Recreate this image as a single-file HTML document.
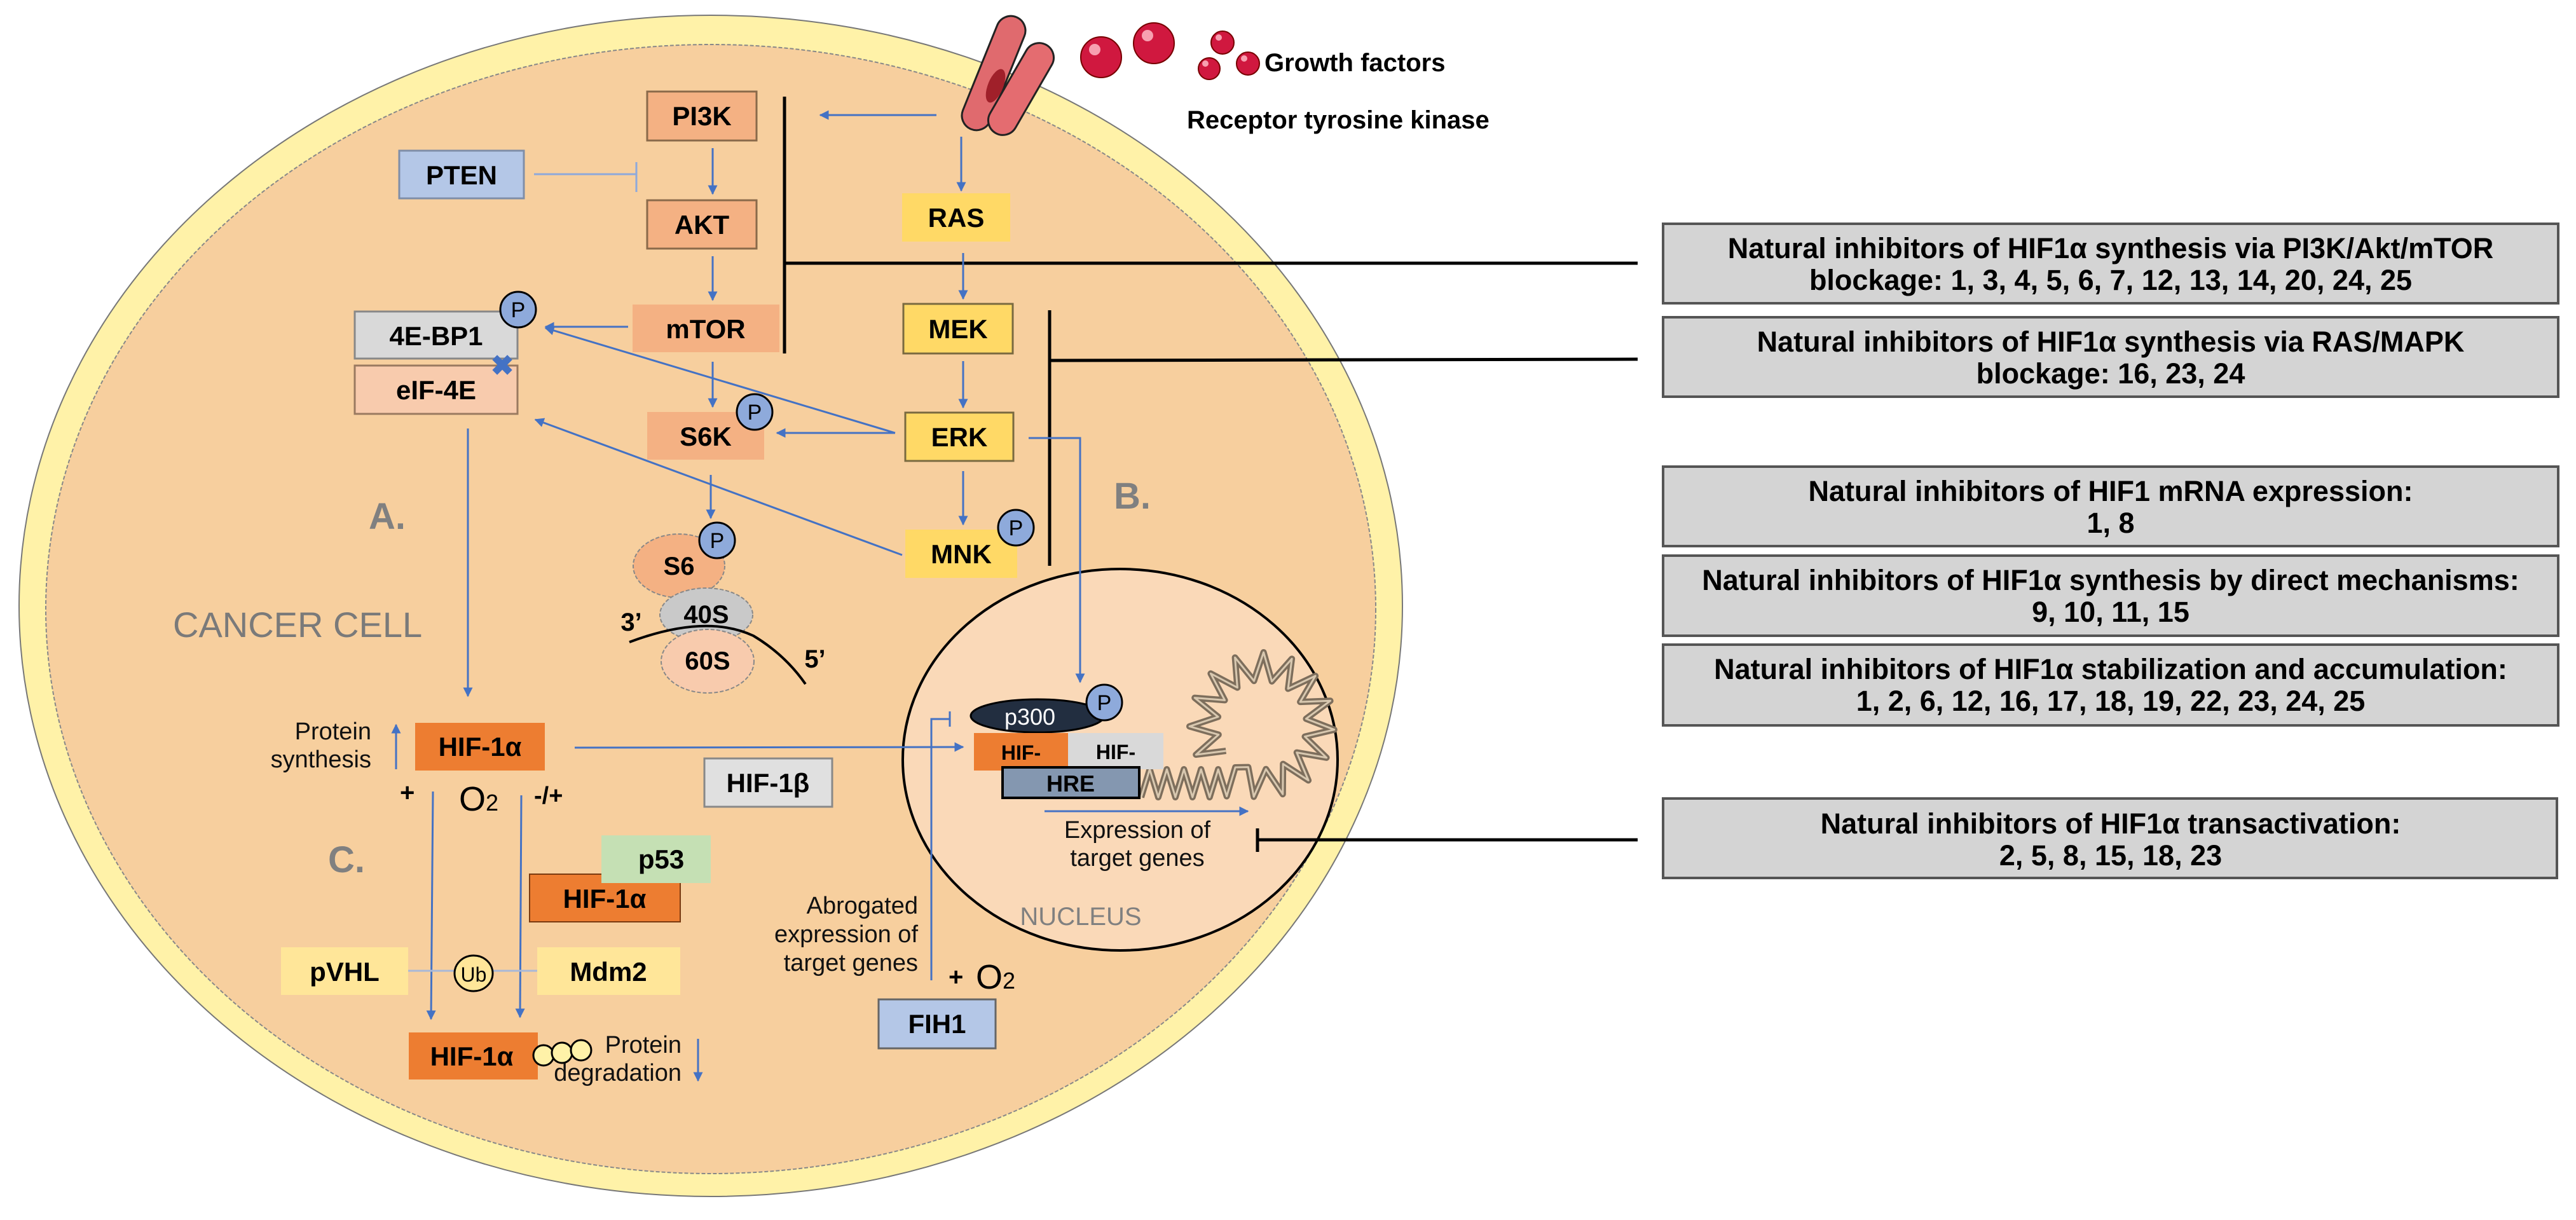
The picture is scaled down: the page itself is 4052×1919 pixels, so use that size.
<!DOCTYPE html>
<html><head><meta charset="utf-8"><style>
html,body{margin:0;padding:0;background:#fff;}
svg{display:block;}
text{font-family:"Liberation Sans",Arial,sans-serif;}
.b{font-weight:bold;font-size:42px;text-anchor:middle;fill:#000;}
.r{font-size:38px;fill:#111;}
.nb{font-weight:bold;font-size:45px;text-anchor:middle;fill:#000;}
</style></head><body>
<svg width="4052" height="1919" viewBox="0 0 4052 1919" xmlns="http://www.w3.org/2000/svg">
<defs>
<marker id="ar" viewBox="0 0 10 10" refX="9" refY="5" markerWidth="5" markerHeight="5" orient="auto-start-reverse">
<path d="M0,0 L10,5 L0,10 z" fill="#4472c4"/></marker>
</defs>
<ellipse cx="1118" cy="953" rx="1088" ry="929" fill="#fff2a8" stroke="#777" stroke-width="2"/>
<ellipse cx="1118" cy="958" rx="1046" ry="888" fill="#f7cf9e" stroke="#888" stroke-width="2" stroke-dasharray="6,3"/>
<ellipse cx="1762" cy="1195" rx="342" ry="300" fill="#fad9b8" stroke="#000" stroke-width="4"/>

<g id="dna" fill="none" stroke="#7d6e5c" stroke-width="10" stroke-linejoin="round"></g>

<g stroke="#000" stroke-width="5" fill="none">
<line x1="1234" y1="152" x2="1234" y2="556"/>
<line x1="1234" y1="414" x2="2576" y2="414"/>
<line x1="1651" y1="488" x2="1651" y2="890"/>
<line x1="1651" y1="567" x2="2576" y2="565"/>
<line x1="1978" y1="1321" x2="2576" y2="1321"/>
<line x1="1978" y1="1303" x2="1978" y2="1340"/>
</g>

<g stroke="#4472c4" stroke-width="3" fill="none" marker-end="url(#ar)">
<line x1="1473" y1="181" x2="1290" y2="181"/>
<line x1="1512" y1="215" x2="1512" y2="300"/>
<line x1="1121" y1="233" x2="1121" y2="305"/>
<line x1="1121" y1="403" x2="1121" y2="472"/>
<line x1="988" y1="514" x2="858" y2="514"/>
<line x1="1121" y1="569" x2="1121" y2="640"/>
<line x1="1408" y1="681" x2="1222" y2="681"/>
<line x1="1408" y1="681" x2="858" y2="516"/>
<line x1="1419" y1="873" x2="842" y2="660"/>
<line x1="1118" y1="747" x2="1118" y2="815"/>
<line x1="1515" y1="398" x2="1515" y2="470"/>
<line x1="1515" y1="568" x2="1515" y2="641"/>
<line x1="1515" y1="741" x2="1515" y2="825"/>
<line x1="736" y1="674" x2="736" y2="1095"/>
<polyline points="1618,689 1699,689 1699,1073"/>
<line x1="623" y1="1210" x2="623" y2="1140"/>
<line x1="904" y1="1176" x2="1515" y2="1175"/>
<line x1="681" y1="1245" x2="678" y2="1603"/>
<line x1="820" y1="1251" x2="818" y2="1600"/>
<line x1="1098" y1="1634" x2="1098" y2="1700"/>
<line x1="1643" y1="1276" x2="1963" y2="1276"/>
</g>
<g stroke="#4472c4" stroke-width="3" fill="none">
<polyline points="1465,1542 1465,1131 1494,1131"/>
<line x1="1494" y1="1119" x2="1494" y2="1143"/>
</g>
<g stroke="#8ea9db" stroke-width="3" fill="none">
<line x1="840" y1="274" x2="1001" y2="274"/>
<line x1="1001" y1="255" x2="1001" y2="302"/>
<line x1="642" y1="1527" x2="845" y2="1527" stroke="#a9b8d8"/>
</g>

<g stroke="#8a6a4a" stroke-width="3">
<rect x="1018" y="144" width="172" height="77" fill="#f4b183"/>
<rect x="1018" y="315" width="172" height="76" fill="#f4b183"/>
<rect x="995" y="479" width="231" height="75" fill="#f4b183" stroke="none"/>
<rect x="1018" y="648" width="184" height="75" fill="#f4b183" stroke="none"/>
<rect x="628" y="237" width="196" height="75" fill="#b4c7e7" stroke="#7f8ea8"/>
<rect x="558" y="490" width="256" height="74" fill="#d9d9d9" stroke="#888"/>
<rect x="558" y="575" width="256" height="76" fill="#f8cbad" stroke="#9a7a60"/>
<rect x="1419" y="304" width="170" height="76" fill="#ffd966" stroke="none"/>
<rect x="1421" y="478" width="172" height="78" fill="#ffd966" stroke="#7a6a40"/>
<rect x="1424" y="649" width="170" height="76" fill="#ffd966" stroke="#7a6a40"/>
<rect x="1424" y="833" width="176" height="76" fill="#ffd966" stroke="none"/>
</g>
<text class="b" x="1104" y="197">PI3K</text>
<text class="b" x="1104" y="368">AKT</text>
<text class="b" x="1110" y="532">mTOR</text>
<text class="b" x="1110" y="701">S6K</text>
<text class="b" x="726" y="290">PTEN</text>
<text class="b" x="686" y="543">4E-BP1</text>
<text class="b" x="686" y="628">eIF-4E</text>
<text class="b" x="1504" y="357">RAS</text>
<text class="b" x="1507" y="532">MEK</text>
<text class="b" x="1509" y="702">ERK</text>
<text class="b" x="1512" y="886">MNK</text>

<g fill="#8eaadb" stroke="#000" stroke-width="3">
<circle cx="815" cy="487" r="28"/>
<circle cx="1187" cy="648" r="28"/>
<circle cx="1598" cy="830" r="28"/>
</g>
<text x="790" y="590" font-size="44" font-weight="bold" fill="#4472c4" text-anchor="middle">✖</text>

<ellipse cx="1068" cy="890" rx="72" ry="50" fill="#f4b183" stroke="#888" stroke-width="2" stroke-dasharray="6,3"/>
<circle cx="1128" cy="850" r="28" fill="#8eaadb" stroke="#000" stroke-width="3"/>
<ellipse cx="1111" cy="967" rx="73" ry="42" fill="#c9c9c9" stroke="#888" stroke-width="2" stroke-dasharray="6,3"/>
<ellipse cx="1113" cy="1040" rx="73" ry="50" fill="#f8cbad" stroke="#888" stroke-width="2" stroke-dasharray="6,3"/>
<path d="M990,1010 Q1110,965 1185,1000 Q1235,1030 1267,1076" fill="none" stroke="#000" stroke-width="4"/>
<g font-weight="bold" fill="#000" font-size="40" text-anchor="middle">
<text x="1068" y="904">S6</text>
<text x="1111" y="980">40S</text>
<text x="1113" y="1053">60S</text>
<text x="993" y="992">3’</text>
<text x="1282" y="1050">5’</text>
</g>
<g font-size="34" text-anchor="middle" fill="#000">
<text x="815" y="499">P</text><text x="1187" y="660">P</text><text x="1598" y="842">P</text><text x="1128" y="862">P</text><text x="1737" y="1117">P</text>
</g>

<g font-weight="bold" fill="#808080" font-size="58">
<text x="580" y="832">A.</text>
<text x="1752" y="800">B.</text>
<text x="516" y="1372">C.</text>
</g>
<text x="272" y="1002" font-size="56" fill="#7a7a7a">CANCER CELL</text>

<rect x="653" y="1137" width="204" height="75" fill="#ed7d31"/>
<text class="b" x="755" y="1189">HIF-1α</text>
<text class="r" x="584" y="1163" text-anchor="end">Protein</text>
<text class="r" x="584" y="1207" text-anchor="end">synthesis</text>
<text x="629" y="1260" font-size="40" font-weight="bold">+</text>
<text x="722" y="1275" font-size="54">O<tspan font-size="36">2</tspan></text>
<text x="840" y="1264" font-size="38" font-weight="bold">-/+</text>
<rect x="1108" y="1193" width="201" height="76" fill="#e0e0e0" stroke="#888" stroke-width="3"/>
<text class="b" x="1208" y="1246">HIF-1β</text>
<rect x="833" y="1375" width="237" height="75" fill="#ed7d31" stroke="#7a3a10" stroke-width="2"/>
<text class="b" x="951" y="1428">HIF-1α</text>
<rect x="946" y="1314" width="172" height="75" fill="#c5e0b4"/>
<text class="b" x="1040" y="1366">p53</text>
<rect x="442" y="1490" width="200" height="75" fill="#ffe699"/>
<text class="b" x="542" y="1543">pVHL</text>
<rect x="845" y="1490" width="225" height="75" fill="#ffe699"/>
<text class="b" x="957" y="1543">Mdm2</text>
<ellipse cx="745" cy="1531" rx="30" ry="28" fill="#ffe699" stroke="#000" stroke-width="3"/>
<text x="745" y="1544" font-size="32" text-anchor="middle">Ub</text>
<rect x="643" y="1624" width="203" height="74" fill="#ed7d31"/>
<text class="b" x="742" y="1676">HIF-1α</text>
<g fill="#fff2a8" stroke="#000" stroke-width="3">
<circle cx="855" cy="1660" r="16"/><circle cx="884" cy="1656" r="16"/><circle cx="914" cy="1652" r="16"/>
</g>
<text class="r" x="1072" y="1656" text-anchor="end">Protein</text>
<text class="r" x="1072" y="1700" text-anchor="end">degradation</text>

<text class="r" x="1444" y="1437" text-anchor="end">Abrogated</text>
<text class="r" x="1444" y="1482" text-anchor="end">expression of</text>
<text class="r" x="1444" y="1527" text-anchor="end">target genes</text>
<text x="1492" y="1550" font-size="40" font-weight="bold">+</text>
<text x="1535" y="1555" font-size="54">O<tspan font-size="36">2</tspan></text>
<rect x="1382" y="1572" width="184" height="77" fill="#b4c7e7" stroke="#666" stroke-width="3"/>
<text class="b" x="1474" y="1625">FIH1</text>

<ellipse cx="1632" cy="1126" rx="105" ry="26" fill="#222e40" stroke="#000" stroke-width="3"/>
<text x="1620" y="1140" font-size="36" fill="#fff" text-anchor="middle">p300</text>
<circle cx="1737" cy="1105" r="28" fill="#8eaadb" stroke="#000" stroke-width="3"/>
<text x="1737" y="1117" font-size="34" text-anchor="middle">P</text>
<rect x="1532" y="1153" width="148" height="59" fill="#ed7d31"/>
<rect x="1680" y="1153" width="150" height="57" fill="#d9d9d9"/>
<text x="1606" y="1195" font-size="32" font-weight="bold" text-anchor="middle">HIF-</text>
<text x="1755" y="1194" font-size="32" font-weight="bold" text-anchor="middle">HIF-</text>
<rect x="1577" y="1207" width="215" height="48" fill="#8497b0" stroke="#000" stroke-width="4"/>
<text x="1684" y="1245" font-size="36" font-weight="bold" text-anchor="middle">HRE</text>
<text class="r" x="1789" y="1318" text-anchor="middle">Expression of</text>
<text class="r" x="1789" y="1362" text-anchor="middle">target genes</text>
<text x="1700" y="1455" font-size="40" fill="#808080" text-anchor="middle">NUCLEUS</text>

<g stroke="#222" stroke-width="3">
<rect x="1540" y="20" width="46" height="190" rx="23" fill="#e06a6e" transform="rotate(22 1563 115)"/>
<rect x="1583" y="60" width="46" height="160" rx="23" fill="#e46c70" transform="rotate(30 1606 140)"/>
</g>
<ellipse cx="1566" cy="135" rx="12" ry="28" fill="#a0202a" transform="rotate(22 1566 135)"/>
<g fill="#d0183f" stroke="#700" stroke-width="2">
<circle cx="1732" cy="90" r="32"/><circle cx="1815" cy="68" r="32"/>
<circle cx="1923" cy="67" r="18"/><circle cx="1902" cy="108" r="17"/><circle cx="1963" cy="100" r="18"/>
</g>
<g fill="#f7a0b0">
<circle cx="1722" cy="78" r="9"/><circle cx="1805" cy="56" r="9"/><circle cx="1917" cy="59" r="5"/><circle cx="1896" cy="100" r="5"/><circle cx="1957" cy="92" r="5"/>
</g>
<text x="1989" y="112" font-size="40" font-weight="bold">Growth factors</text>
<text x="1867" y="202" font-size="40" font-weight="bold">Receptor tyrosine kinase</text>

<g fill="#d4d4d4" stroke="#555" stroke-width="4">
<rect x="2616" y="352" width="1408" height="125"/>
<rect x="2616" y="499" width="1408" height="125"/>
<rect x="2616" y="734" width="1408" height="125"/>
<rect x="2616" y="874" width="1408" height="126"/>
<rect x="2616" y="1014" width="1408" height="127"/>
<rect x="2616" y="1256" width="1406" height="125"/>
</g>
<text class="nb" x="3320" y="406">Natural inhibitors of HIF1α synthesis via PI3K/Akt/mTOR</text>
<text class="nb" x="3320" y="456">blockage: 1, 3, 4, 5, 6, 7, 12, 13, 14, 20, 24, 25</text>
<text class="nb" x="3320" y="553">Natural inhibitors of HIF1α synthesis via RAS/MAPK</text>
<text class="nb" x="3320" y="603">blockage: 16, 23, 24</text>
<text class="nb" x="3320" y="788">Natural inhibitors of HIF1 mRNA expression:</text>
<text class="nb" x="3320" y="838">1, 8</text>
<text class="nb" x="3320" y="928">Natural inhibitors of HIF1α synthesis by direct mechanisms:</text>
<text class="nb" x="3320" y="978">9, 10, 11, 15</text>
<text class="nb" x="3320" y="1068">Natural inhibitors of HIF1α stabilization and accumulation:</text>
<text class="nb" x="3320" y="1118">1, 2, 6, 12, 16, 17, 18, 19, 22, 23, 24, 25</text>
<text class="nb" x="3320" y="1311">Natural inhibitors of HIF1α transactivation:</text>
<text class="nb" x="3320" y="1361">2, 5, 8, 15, 18, 23</text>
</svg>
<script>
(function(){
var g=document.getElementById('dna');var pts=[];
var cx=1985,cy=1140,R=92,A=22;
var a0=Math.PI*1.2, a1=a0-Math.PI*2*0.9;
var steps=28;
for(var i=0;i<=steps;i++){var a=a0+(a1-a0)*i/steps;var r=(i%2==0)?R-A:R+A;pts.push((cx+r*Math.cos(a)).toFixed(1)+','+(cy-r*Math.sin(a)).toFixed(1));}
var ex=cx+R*Math.cos(a1), ey=cy-R*Math.sin(a1);
var n=12;
for(var j=1;j<=n;j++){var x=ex-(ex-1795)*j/n;var y=ey+(1232-ey)*Math.min(1,j/3)+((j%2)?-A:A);pts.push(x.toFixed(1)+','+y.toFixed(1));}
var p=document.createElementNS('http://www.w3.org/2000/svg','polyline');p.setAttribute('points',pts.join(' '));g.appendChild(p);
var p2=p.cloneNode();p2.setAttribute('stroke','#d8c8b0');p2.setAttribute('stroke-width','3');g.appendChild(p2);
})();
</script>
</body></html>
